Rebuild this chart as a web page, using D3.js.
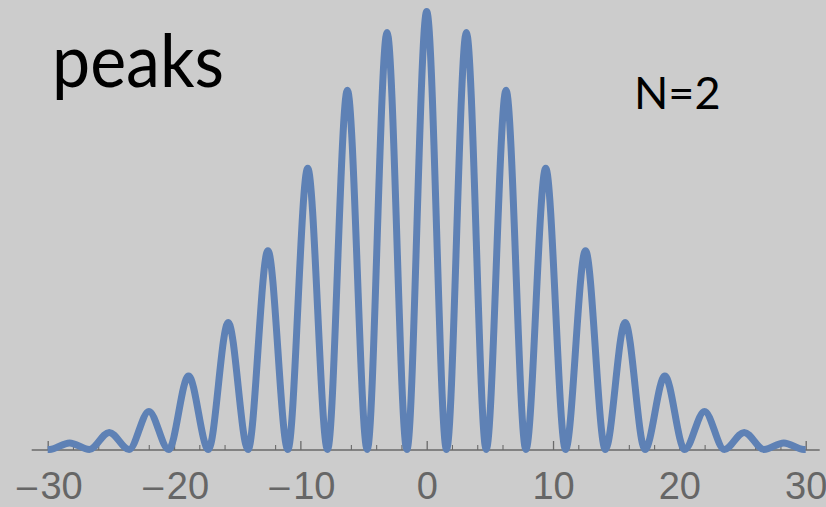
<!DOCTYPE html>
<html>
<head>
<meta charset="utf-8">
<script src="https://cdn.jsdelivr.net/npm/d3@7/dist/d3.min.js"></script>
<style>
  html, body { margin: 0; padding: 0; background: #cccccc; }
  svg { display: block; }
</style>
</head>
<body>
<script>
// Two-slit fringe pattern: bright fringes under a smooth envelope.
const peakX = [-28.27, -25.13, -21.99, -18.85, -15.71, -12.57, -9.42, -6.28, -3.14, 0,
               3.14, 6.28, 9.42, 12.57, 15.71, 18.85, 21.99, 25.13, 28.27];
const peakHeight = [0.015, 0.039, 0.087, 0.168, 0.290, 0.454, 0.642, 0.820, 0.952, 1.0,
                    0.952, 0.820, 0.642, 0.454, 0.290, 0.168, 0.087, 0.039, 0.015];
const troughX = [-29.85, -26.70, -23.56, -20.42, -17.28, -14.14, -10.99, -7.85, -4.71, -1.57,
                 1.57, 4.71, 7.85, 10.99, 14.14, 17.28, 20.42, 23.56, 26.70, 29.85];
const xRange = [-30, 30];
const majorTicks = [-30, -20, -10, 0, 10, 20, 30];
const minorTicks = [-28, -26, -24, -22, -18, -16, -14, -12, -8, -6, -4, -2,
                    2, 4, 6, 8, 12, 14, 16, 18, 22, 24, 26, 28];
const panelLabel = "peaks";
const seriesLabel = "N=2";

const W = 826, H = 507;
const svg = d3.select("body").append("svg").attr("width", W).attr("height", H);
svg.append("rect").attr("width", W).attr("height", H).attr("fill", "#cccccc");

const x = d3.scaleLinear().domain(xRange).range([47.7, 805.7]);
const y = d3.scaleLinear().domain([0, 1]).range([449.5, 11.5]);
const axisY = 450;

// merge fringe maxima and minima into one ordered path
const pts = [{x: xRange[0], v: 0}]
  .concat(peakX.map((px, i) => ({x: px, v: peakHeight[i]})))
  .concat(troughX.map(tx => ({x: tx, v: 0})))
  .concat([{x: xRange[1], v: 0}])
  .sort((a, b) => a.x - b.x);

// axis line
svg.append("line")
  .attr("x1", x(xRange[0]) - 16).attr("x2", x(xRange[1]) + 14)
  .attr("y1", axisY).attr("y2", axisY)
  .attr("stroke", "#6a6a6a").attr("stroke-width", 1.6);

const major = svg.append("g").attr("transform", `translate(0,${axisY})`)
  .call(d3.axisBottom(x).tickValues(majorTicks).tickFormat(d => String(Math.abs(d)))
    .tickSizeInner(-9).tickSizeOuter(0));
major.select(".domain").remove();
major.selectAll(".tick line").attr("stroke", "#6a6a6a").attr("stroke-width", 1.3);
major.selectAll(".tick text")
  .attr("dy", null).attr("y", 49.3)
  .attr("fill", "#666666")
  .style("font-family", "'Liberation Sans', Arial, sans-serif")
  .style("font-size", "38px")
  .each(function(d) {
    if (d >= 0) return;
    const t = d3.select(this).text("");
    t.append("tspan")
      .style("font-family", "'DejaVu Sans', sans-serif")
      .style("font-size", "32px")
      .text("\u2212");
    t.append("tspan").text(String(Math.abs(d)));
  });

const minor = svg.append("g").attr("transform", `translate(0,${axisY})`)
  .call(d3.axisBottom(x).tickValues(minorTicks).tickFormat("")
    .tickSizeInner(-5).tickSizeOuter(0));
minor.select(".domain").remove();
minor.selectAll(".tick line").attr("stroke", "#6a6a6a").attr("stroke-width", 1.1);

// fringe curve
const line = d3.line().x(d => x(d.x)).y(d => y(d.v)).curve(d3.curveMonotoneX);
svg.append("path").datum(pts)
  .attr("d", line)
  .attr("fill", "none")
  .attr("stroke", "#5e81b5")
  .attr("stroke-width", 7)
  .attr("stroke-linejoin", "round");

svg.append("text").attr("x", 52).attr("y", 87)
  .attr("fill", "#000")
  .attr("textLength", 172)
  .attr("lengthAdjust", "spacingAndGlyphs")
  .style("font-family", "Lato, 'Open Sans', sans-serif")
  .style("font-size", "73px")
  .text(panelLabel);

svg.append("text").attr("x", 634).attr("y", 109.3)
  .attr("fill", "#000")
  .style("font-family", "Lato, 'Open Sans', sans-serif")
  .style("font-size", "45px")
  .text(seriesLabel);
</script>
</body>
</html>
